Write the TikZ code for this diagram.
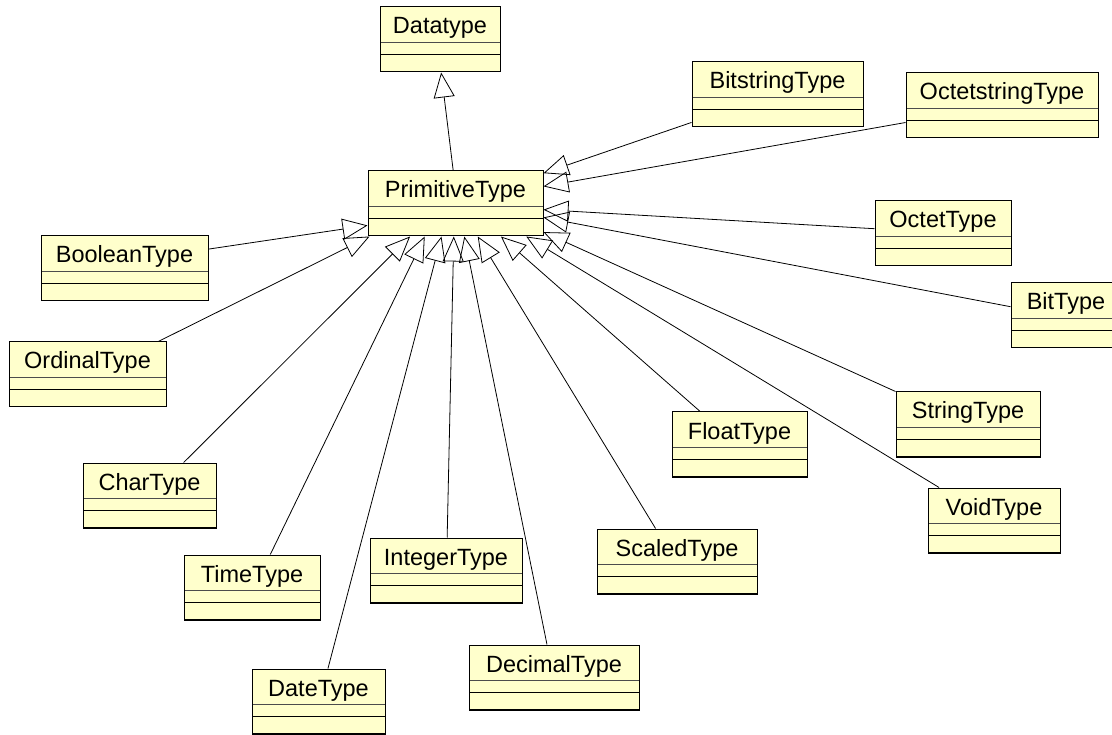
\documentclass[tikz,border=0pt]{standalone}
\usepackage{fontspec}
\setmainfont{Liberation Sans}
\usetikzlibrary{arrows.meta}

\definecolor{clsyellow}{RGB}{255,255,204}

\tikzset{
  umlclass/.style={rectangle, draw, line width=1pt, fill=clsyellow,
    inner xsep=0pt, inner ysep=0pt, text height=27pt, text depth=38pt,
    font=\fontsize{23.5}{28}\selectfont,
    path picture={
      \draw [line width=1pt, black!70] ([yshift=-35.5pt]path picture bounding box.north west) -- ([yshift=-35.5pt]path picture bounding box.north east);
      \draw [line width=1pt] ([yshift=-47.5pt]path picture bounding box.north west) -- ([yshift=-47.5pt]path picture bounding box.north east);
      \draw [line width=2.4pt] (path picture bounding box.north west) -- (path picture bounding box.south west) -- (path picture bounding box.south east);
    }},
  inherits/.style={-{Triangle[open, length=25pt, width=21pt]}, line width=0.8pt},
}

\begin{document}
\begin{tikzpicture}[x=1pt, y=-1pt]

\useasboundingbox (0,0) rectangle (1112,735);

% classes
\draw (440,39.5) node (dt) [umlclass, minimum width=120pt] {Datatype};
\draw (455.5,203.5) node (prim) [umlclass, minimum width=175pt] {PrimitiveType};

\draw (777.5,94.5) node (bitstr) [umlclass, minimum width=171pt] {BitstringType};
\draw (1002,105.5) node (octstr) [umlclass, minimum width=192pt] {OctetstringType};
\draw (943,233.5) node (octet) [umlclass, minimum width=136pt] {OctetType};
\draw (1066,315.5) node (bit) [umlclass, minimum width=110pt] {BitType};
\draw (968,424.5) node (str) [umlclass, minimum width=144pt] {StringType};
\draw (994,520.5) node (void) [umlclass, minimum width=132pt] {VoidType};
\draw (739.5,444.5) node (float) [umlclass, minimum width=135pt] {FloatType};
\draw (677,561.5) node (scaled) [umlclass, minimum width=160pt] {ScaledType};
\draw (554,677.5) node (dec) [umlclass, minimum width=170pt] {DecimalType};
\draw (446,570.5) node (int) [umlclass, minimum width=152pt] {IntegerType};
\draw (318.5,701.5) node (date) [umlclass, minimum width=133pt] {DateType};
\draw (252,587.5) node (time) [umlclass, minimum width=136pt] {TimeType};
\draw (149.5,495.5) node (char) [umlclass, minimum width=133pt] {CharType};
\draw (87.5,374.5) node (ord) [umlclass, minimum width=157pt] {OrdinalType};
\draw (124.5,268.5) node (bool) [umlclass, minimum width=167pt] {BooleanType};

% generalisations
\draw [inherits] (prim.94) -- (dt.-88);

\draw [inherits] (bitstr.-162) -- (prim.19);
\draw [inherits] (octstr.-170) -- (prim.11);
\draw [inherits] (octet.176) -- (prim.-4);
\draw [inherits] (bit.171) -- (prim.-9);
\draw [inherits] (str.north west) -- (prim.-18);
\draw [inherits] (void.149) -- (prim.-25);
\draw [inherits] (float.140) -- (prim.-36);
\draw [inherits] (scaled.123) -- (prim.-56);
\draw [inherits] (dec.102) -- (prim.-75);
\draw [inherits] (int.88) -- (prim.-93);
\draw [inherits] (date.74) -- (prim.-113);
\draw [inherits] (time.61) -- (prim.-133);
\draw [inherits] (char.44) -- (prim.-144);
\draw [inherits] (ord.25) -- (prim.-159);
\draw [inherits] (bool.13) -- (prim.-166);

\end{tikzpicture}
\end{document}
